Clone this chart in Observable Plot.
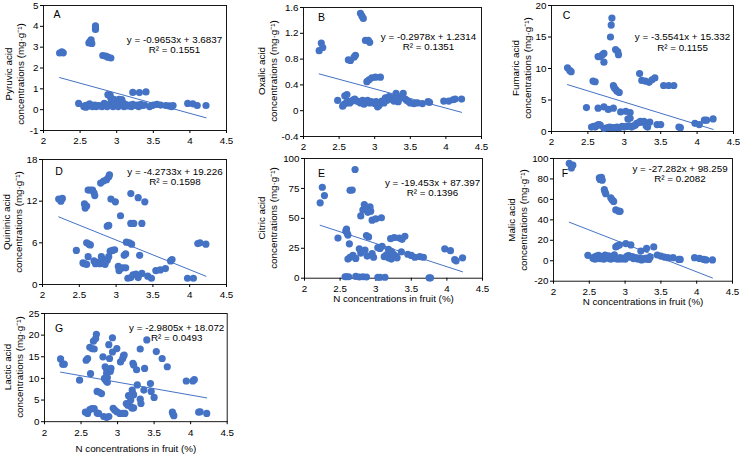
<!DOCTYPE html>
<html>
<head>
<meta charset="utf-8">
<script src="https://cdn.jsdelivr.net/npm/d3@7"></script>
<script src="https://cdn.jsdelivr.net/npm/@observablehq/plot@0.6"></script>
<style>
  html, body { margin: 0; padding: 0; background: #fff; }
  #chart { position: relative; width: 740px; height: 454px; overflow: hidden; background: #fff;
           font-family: "Liberation Sans", Arial, sans-serif; }
  #chart svg { position: absolute; overflow: visible; }
  .ylab { position: absolute; transform: translate(-50%, -50%) rotate(-90deg); white-space: nowrap;
          text-align: center; font-size: 9.8px; line-height: 1.2; color: #000; }
</style>
</head>
<body>
<div id="chart"></div>
<script>
// ---------- data (N concentration in fruit %, acid concentration mg/g) ----------
const xTicks = [2, 2.5, 3, 3.5, 4, 4.5];

const pyruvic = [[2.22,2.72],[2.25,2.78],[2.27,2.73],[2.62,3.2],[2.63,3.25],[2.65,3.35],[2.66,3.18],
 [2.71,3.85],[2.71,3.93],[2.71,4.02],[2.81,2.6],[2.85,2.57],[2.88,2.52],[2.92,2.48],
 [2.88,0.72],[2.91,0.7],[2.92,0.55],[2.96,0.5],[3.03,0.5],[3.07,0.48],[3.08,0.35],
 [3.22,0.83],[3.31,0.82],[3.4,0.85],[2.48,0.3],
 [2.55,0.15],[2.57,0.2],[2.58,0.12],[2.6,0.22],[2.62,0.18],[2.63,0.28],[2.65,0.2],[2.67,0.15],[2.7,0.22],
 [2.72,0.15],[2.75,0.2],[2.78,0.18],[2.8,0.15],[2.83,0.3],[2.85,0.2],[2.87,0.15],[2.9,0.25],[2.93,0.2],
 [2.95,0.15],[2.98,0.22],[3.0,0.3],[3.02,0.15],[3.05,0.25],[3.07,0.2],[3.1,0.15],[3.12,0.25],[3.15,0.18],
 [3.18,0.22],[3.2,0.15],[3.22,0.25],[3.25,0.2],[3.28,0.22],[3.3,0.15],[3.33,0.25],[3.35,0.2],[3.38,0.22],
 [3.45,0.15],[3.48,0.2],[3.5,0.22],[3.55,0.25],[3.6,0.22],[3.67,0.2],[3.72,0.18],[3.75,0.15],[3.77,0.2],
 [3.97,0.3],[4.04,0.28],[4.1,0.2],[4.22,0.2]];

const oxalic = [[2.22,0.93],[2.25,1.05],[2.27,0.98],[2.63,0.79],[2.66,0.78],[2.71,0.83],[2.73,0.86],
 [2.8,1.51],[2.82,1.47],[2.84,1.43],[2.87,1.09],[2.91,1.09],[2.93,1.06],
 [2.89,0.45],[2.92,0.48],[2.96,0.51],[3.01,0.52],[3.08,0.52],[2.48,0.16],[2.58,0.23],[2.61,0.25],
 [2.55,0.07],[2.57,0.1],[2.6,0.12],[2.62,0.15],[2.65,0.12],[2.68,0.15],[2.7,0.17],[2.72,0.18],[2.75,0.15],
 [2.78,0.14],[2.8,0.12],[2.83,0.16],[2.85,0.1],[2.88,0.13],[2.9,0.16],[2.93,0.12],[2.95,0.14],[2.98,0.13],
 [3.0,0.11],[3.02,0.14],[3.04,0.06],[3.06,0.08],[3.08,0.12],[3.1,0.15],[3.13,0.12],[3.15,0.2],[3.17,0.16],
 [3.2,0.22],[3.22,0.18],[3.25,0.2],[3.27,0.15],[3.3,0.27],[3.33,0.14],[3.35,0.2],[3.38,0.22],[3.4,0.27],
 [3.43,0.18],[3.45,0.16],[3.48,0.14],[3.5,0.12],[3.55,0.11],[3.6,0.12],[3.67,0.11],[3.75,0.14],[3.77,0.13],
 [3.97,0.15],[4.04,0.15],[4.1,0.17],[4.13,0.18],[4.22,0.18]];

const fumaric = [[2.22,10.1],[2.25,9.7],[2.27,9.5],[2.57,8.0],[2.6,7.9],
 [2.64,11.9],[2.67,11.9],[2.7,12.2],[2.72,12.4],[2.72,11.0],[2.81,15.0],[2.82,16.9],[2.83,18.0],
 [2.88,13.0],[2.91,12.7],[2.92,12.2],[2.85,7.3],[2.86,7.0],[2.88,6.7],[2.9,6.4],[2.93,6.2],
 [2.48,3.8],[2.64,3.7],[2.72,3.9],[2.78,3.5],[2.85,3.7],[2.95,3.1],[3.02,3.2],[3.08,3.0],[3.08,2.1],[3.05,2.0],
 [3.21,9.2],[3.24,8.1],[3.29,8.0],[3.34,7.8],[3.38,8.2],[3.42,8.5],[3.54,7.3],[3.61,7.3],[3.68,7.3],
 [2.55,0.7],[2.58,0.8],[2.6,0.7],[2.63,1.0],[2.65,1.1],[2.67,1.0],[2.72,0.5],[2.77,0.6],[2.8,0.7],[2.83,0.6],
 [2.87,0.6],[2.9,0.7],[2.93,0.6],[2.97,0.8],[3.0,0.7],[3.03,0.8],[3.07,0.9],[3.1,0.7],[3.13,0.9],[3.15,1.0],
 [3.17,1.3],[3.2,1.4],[3.22,1.6],[3.25,1.5],[3.27,1.6],[3.3,0.9],[3.32,0.7],[3.35,1.5],[3.45,1.1],[3.5,1.1],
 [3.75,0.7],[3.77,0.6],[3.97,1.3],[4.03,1.1],[4.1,1.8],[4.13,1.8],[4.22,2.0]];

const quinic = [[2.22,12.3],[2.25,12.0],[2.27,12.4],[2.57,11.6],[2.58,11.0],[2.6,11.3],
 [2.62,13.6],[2.65,13.6],[2.68,13.6],[2.7,13.2],[2.71,12.8],[2.79,14.6],[2.83,14.9],[2.87,15.1],[2.9,15.5],[2.91,15.8],
 [2.93,12.3],[2.99,11.9],[3.06,9.9],[2.88,8.4],[2.9,8.5],[3.2,13.1],[3.3,12.5],[3.39,11.9],
 [3.2,8.8],[3.24,8.8],[3.35,8.8],[2.46,4.9],[2.6,6.0],[2.63,5.8],[2.65,5.7],[2.62,4.0],
 [2.55,3.1],[2.57,3.0],[2.6,2.9],[2.7,3.4],[2.72,3.0],[2.75,3.2],[2.78,3.0],[2.8,4.0],[2.83,3.6],[2.85,2.9],
 [2.88,3.5],[2.9,4.0],[2.92,4.8],[2.95,4.9],[2.98,5.0],[3.11,4.2],[3.13,4.4],[3.14,6.1],[3.18,6.0],[3.21,5.8],
 [3.32,4.2],[3.03,2.6],[3.04,2.0],[3.06,2.3],[3.09,2.4],[3.13,2.4],[3.16,0.9],[3.2,1.0],[3.23,1.4],[3.27,1.5],
 [3.3,1.0],[3.35,1.6],[3.43,1.2],[3.48,0.9],[3.54,2.0],[3.6,2.1],[3.67,2.3],[3.74,3.4],[3.76,3.6],
 [3.97,0.9],[4.05,0.9],[4.11,5.9],[4.14,6.0],[4.22,5.8]];

const citric = [[2.22,63],[2.25,76],[2.28,69],[2.47,33.5],[2.58,39.5],[2.59,41],[2.6,37.5],[2.61,36],[2.63,28.7],
 [2.64,73.4],[2.67,73.6],[2.71,90.8],[2.79,52],[2.82,57],[2.84,61.5],[2.87,57],[2.89,55],[2.92,59.5],[2.93,56],
 [2.95,48.5],[3.0,49.5],[3.08,50.5],[2.87,35.6],[2.9,34.5],[2.61,16],[2.64,17.5],[2.68,19],[2.72,16.5],
 [2.77,24.5],[2.79,21],[2.85,23.5],[2.88,18.5],[2.95,20.5],[2.97,17.5],[3.03,25.5],[3.06,24.8],[3.09,26.6],
 [3.12,18],[3.15,19.5],[3.18,17],[3.2,22],[3.22,16],[3.25,20],[3.28,18.5],[3.3,17],
 [3.21,33],[3.26,34],[3.33,33.5],[3.37,32.5],[3.41,35],[3.18,24],[3.22,22.5],[3.36,22],
 [3.45,20],[3.5,19],[3.55,17.5],[3.62,18],[3.67,17.5],[3.97,24.5],[4.05,23],[4.11,15.5],[4.13,14.5],[4.22,17],
 [2.57,1.2],[2.59,1.2],[2.62,1.2],[2.72,1.5],[2.77,1.0],[2.82,1.2],[2.87,1.0],[3.03,0.8],[3.06,0.8],[3.13,0.8],
 [3.75,0.3],[3.77,0.3]];

const malic = [[2.22,95.2],[2.25,90.8],[2.27,93.5],[2.64,81],[2.65,79.5],[2.67,81.5],[2.68,78.8],
 [2.71,69.5],[2.72,67.2],[2.73,65.5],[2.8,61.5],[2.82,59.5],[2.84,58],[2.87,49.7],[2.91,48.5],[2.93,48.3],
 [2.87,13.5],[2.89,14.5],[2.92,15.5],[3.01,16.8],[3.08,15.5],[3.22,9.5],[3.3,12],[3.4,13.5],[2.48,5.3],
 [2.55,2.5],[2.57,3.5],[2.58,1.5],[2.6,4.5],[2.62,3],[2.63,5.2],[2.65,2],[2.67,4],[2.7,1.5],[2.72,5.5],
 [2.75,2.5],[2.77,4.8],[2.8,1.5],[2.82,3.5],[2.85,5.8],[2.87,2],[2.9,1.5],[2.93,3],[2.95,1.8],[2.98,2.5],
 [3.0,1.5],[3.03,4.5],[3.05,5],[3.07,3.5],[3.1,4],[3.12,2],[3.15,3],[3.18,1.5],[3.2,2.5],[3.23,0.8],
 [3.25,2],[3.28,1.5],[3.3,2.5],[3.33,1.2],[3.35,3.5],[3.45,5.6],[3.5,4.6],[3.55,3.6],[3.6,3],[3.67,3],
 [3.75,1.3],[3.77,1.3],[3.97,3],[4.04,2.3],[4.1,1.3],[4.13,0.8],[4.22,0.8]];

const lactic = [[2.22,14.5],[2.25,13.3],[2.27,13.3],[2.48,9.6],[2.57,14.2],[2.59,14.6],
 [2.62,17.2],[2.65,16.9],[2.68,16.8],[2.67,18.6],[2.7,19.2],[2.71,20.2],[2.63,11.1],
 [2.72,7.0],[2.75,6.8],[2.78,6.5],[2.8,15],[2.88,17.8],[2.89,14.6],[2.93,19.4],[2.93,16.1],
 [2.83,12.7],[2.85,12.2],[2.85,11.2],[2.86,10.2],[2.84,9.5],[2.86,9.1],[2.82,10.0],[2.91,12.3],[2.9,11.6],
 [2.99,16.9],[3.04,13.8],[3.07,14.6],[3.08,15.2],[3.09,15.4],[3.21,13.5],[3.22,13.1],[3.26,12],
 [3.31,16.8],[3.4,18.9],[3.37,12.3],[3.53,16.2],[3.61,14.6],[3.68,12.7],
 [3.27,8.5],[3.45,8.8],[3.36,7.3],[3.46,7],[3.5,5.6],[3.2,7.3],[3.21,6.5],[3.22,6.2],[3.15,6],[3.18,5],
 [3.31,5.2],[3.32,4.2],[3.12,4.2],[3.14,3.8],[3.18,3.5],[3.2,3.1],[3.22,3.2],
 [2.94,3.1],[2.96,2.7],[2.99,2.3],[3.03,1.9],[3.07,1.9],[3.1,1.9],
 [2.56,2.2],[2.59,1.9],[2.62,2.8],[2.65,3.0],[2.68,3.0],[2.72,2.0],[2.74,1.9],
 [2.81,1.2],[2.85,1.0],[2.88,1.2],[3.94,9.4],[4.03,9.4],[4.05,9.7],
 [3.75,2.2],[3.76,1.7],[3.77,1.4],[4.11,2.2],[4.13,2.3],[4.22,1.9]];

const acidNames = ["Pyruvic acid","Oxalic acid","Fumaric acid","Quininic acid","Citric acid","Malic acid","Lactic acid"];
const panelLetters = ["A","B","C","D","E","F","G"];
const slopes = [-0.9653, -0.2978, -3.5541, -4.2733, -19.453, -27.282, -2.9805];
const intercepts = [3.6837, 1.2314, 15.332, 19.226, 87.397, 98.259, 18.072];
const rSquared = ["0.1551","0.1351","0.1155","0.1598","0.1396","0.2082","0.0493"];
const yDomains = [[-1,5],[-0.4,1.6],[0,20],[0,18],[0,100],[-20,100],[0,25]];
const yTickValues = [[-1,0,1,2,3,4,5],[-0.4,0,0.4,0.8,1.2,1.6],[0,5,10,15,20],[0,6,12,18],
                     [0,25,50,75,100],[-20,0,20,40,60,80,100],[0,5,10,15,20,25]];
const datasets = [pyruvic, oxalic, fumaric, quinic, citric, malic, lactic];
const xTitle = "N concentrations in fruit (%)";

// ---------- layout (page pixels) ----------
const layout = [
  {f:[43,226,5,130],    lab:[15,74],     eq:[-52,39],  let:[13.5,9.5],  title:false},
  {f:[303,481,7,136],   lab:[267.5,71],  eq:[-53,34],  let:[18,10],     title:false},
  {f:[551,733,5,131],   lab:[522,68],    eq:[-51,36.5],let:[15,10.5],   title:false},
  {f:[42,226,159,284],  lab:[12.5,221.5],eq:[-51.5,17],let:[16.5,12],   title:false},
  {f:[303.5,481.5,158.3,278], lab:[267.5,218], eq:[-50,29], let:[17,15], title:21},
  {f:[553,732,158.3,281], lab:[518,219.6], eq:[-52.5,15], let:[11.5,15], title:21},
  {f:[44,226.7,313.3,421.5], lab:[13.8,367.4], eq:[-50.5,19], let:[14.5,15], title:27}
];

const ML = 48, MR = 12, MT = 8, MB = 36;
const blue = "#4472C4";
const fmt = d => String(d);
const chart = document.getElementById("chart");

datasets.forEach((data, i) => {
  const L = layout[i];
  const [fx0, fx1, fy0, fy1] = L.f;
  const ext = d3.extent(data, d => d[0]);
  const trend = ext.map(x => ({x, y: slopes[i] * x + intercepts[i]}));
  const eqText = `y = ${slopes[i]}x + ${intercepts[i]}\nR² = ${rSquared[i]}`;
  const marks = [
    Plot.frame({stroke: "#000", strokeWidth: 0.9}),
    Plot.axisX({ticks: xTicks, tickFormat: fmt, tickSize: 3, tickPadding: 4, label: null, stroke: "#000"}),
    Plot.axisY({ticks: yTickValues[i], tickFormat: fmt, tickSize: 3, tickPadding: 2, label: null, stroke: "#000"}),
    Plot.dot(data, {x: d => d[0], y: d => d[1], r: 3.6, fill: blue, stroke: null}),
    Plot.line(trend, {x: "x", y: "y", stroke: blue, strokeWidth: 1}),
    Plot.text([eqText], {frameAnchor: "top-right", textAnchor: "middle", lineAnchor: "middle",
                         lineHeight: 1.1, dx: L.eq[0], dy: L.eq[1], fill: "#000"}),
    Plot.text([panelLetters[i]], {frameAnchor: "top-left", textAnchor: "middle", lineAnchor: "middle",
                                  dx: L.let[0], dy: L.let[1], fill: "#000", fontSize: 10.5})
  ];
  if (L.title) {
    marks.push(Plot.text([xTitle], {frameAnchor: "bottom", textAnchor: "middle", lineAnchor: "middle",
                                    dy: L.title, fill: "#000"}));
  }
  const svg = Plot.plot({
    width: fx1 - fx0 + ML + MR,
    height: fy1 - fy0 + MT + MB,
    marginLeft: ML, marginRight: MR, marginTop: MT, marginBottom: MB,
    style: {fontFamily: '"Liberation Sans", Arial, sans-serif', fontSize: "9.8px", color: "#000", background: "transparent"},
    x: {domain: [2, 4.5]},
    y: {domain: yDomains[i]},
    marks
  });
  svg.style.left = (fx0 - ML) + "px";
  svg.style.top = (fy0 - MT) + "px";
  chart.appendChild(svg);

  const lab = document.createElement("div");
  lab.className = "ylab";
  lab.style.left = L.lab[0] + "px";
  lab.style.top = L.lab[1] + "px";
  lab.innerHTML = acidNames[i] + "<br>concentrations (mg·g⁻¹)";
  chart.appendChild(lab);
});
</script>
</body>
</html>
